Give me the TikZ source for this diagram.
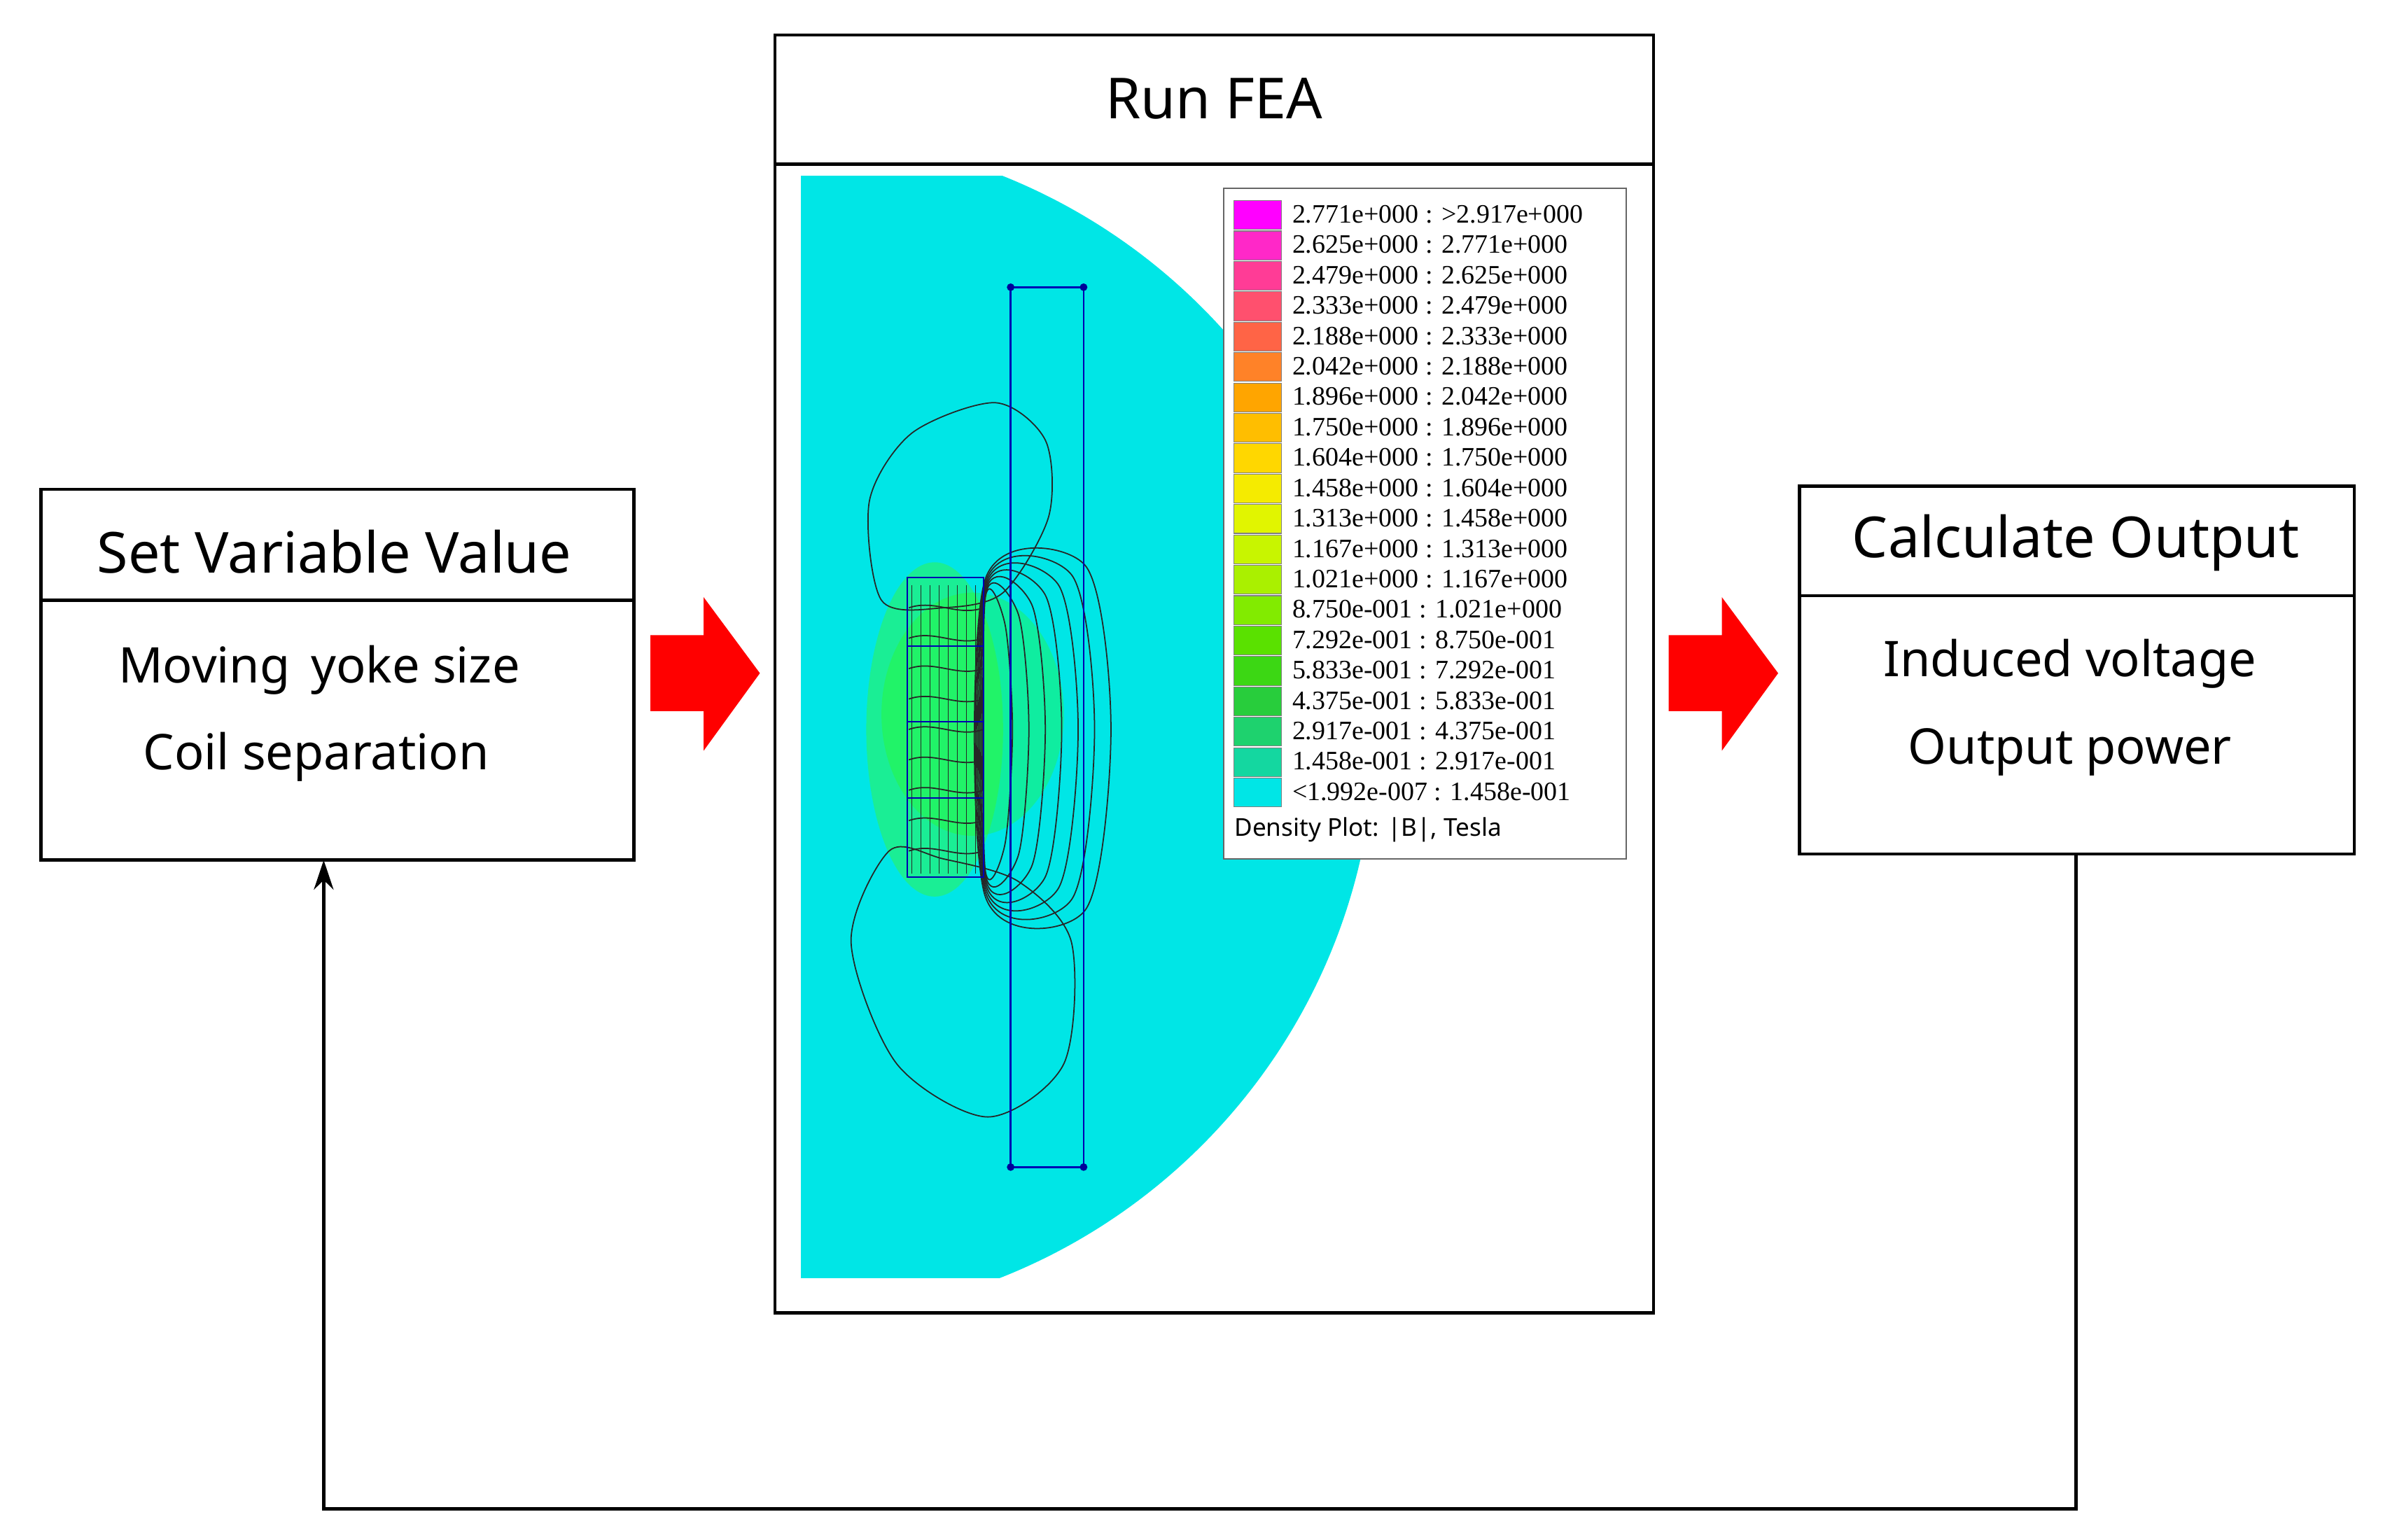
\documentclass[tikz,border=0pt]{standalone}
\usepackage{fontspec}
\setmainfont{Noto Sans}
\newfontfamily\legfont{Liberation Serif}
\usetikzlibrary{arrows.meta}
\definecolor{fcyan}{RGB}{0,230,230}
\begin{document}
\begin{tikzpicture}[x=0.02171cm,y=-0.02171cm,
  box/.style={draw=black,line width=1.3pt},
  title/.style={font=\fontsize{23}{27}\selectfont},
  body/.style={font=\fontsize{20}{24}\selectfont},
  redarrow/.style={fill=red,draw=none},
  fl/.style={draw=black!85,line width=0.5pt},
  leg/.style={font=\legfont\fontsize{10.8}{12}\selectfont,anchor=west,inner sep=0pt}]
\useasboundingbox (0,0) rectangle (1568,1013);
% left box
\draw[box] (27,322) rectangle (417,566);
\draw[box] (27,395) -- (417,395);
\node[title] (svv) at (220,363) {Set Variable Value};
\node[body] (l1) at (210,441) {Moving\, yoke size};
\node[body] (l2) at (208,498) {Coil separation};
\coordinate (lb) at (213,566);
% arrows
\fill[redarrow] (428,418) -- (463,418) -- (463,393) -- (500,443) -- (463,494) -- (463,468) -- (428,468) -- cycle;
\fill[redarrow] (1098,418) -- (1133,418) -- (1133,393) -- (1170,443) -- (1133,494) -- (1133,468) -- (1098,468) -- cycle;
% middle box
\draw[box] (510,23) rectangle (1088,864);
\draw[box] (510,108) -- (1088,108);
\node[title] (fea) at (799,65) {Run FEA};
% plot
\begin{scope}
\clip (527,116) rectangle (1000,841);
\fill[fcyan] (515,478) circle[radius=390];
\end{scope}
\fill[green!70!yellow,opacity=0.35] (615,480) ellipse[x radius=45,y radius=110];
\fill[green!80!yellow,opacity=0.3] (640,470) ellipse[x radius=60,y radius=80];
% field lines
\draw[fl] plot[smooth cycle] coordinates {(580,395) (572,330) (600,285) (655,265) (688,290) (690,340) (660,390) (620,400)};
\draw[fl] plot[smooth cycle] coordinates {(585,560) (560,620) (590,700) (650,735) (700,700) (705,620) (670,580) (620,565)};
\foreach \r in {12,20,28,36,44,52,60} {
  \draw[fl] plot[smooth cycle] coordinates {(648,{400-\r*0.3}) ({648+\r*1.1},{420-\r*0.8}) ({650+\r*1.35},480) ({648+\r*1.1},{545+\r*0.9}) (648,{565+\r*0.4})};
}
\foreach \y in {400,420,440,460,480,500,520,540,560} {
  \draw[fl] (598,\y) .. controls (615,{\y-6}) and (630,{\y+6}) .. (647,\y);
}
\foreach \x in {600,606,612,618,624,630,636,642} {
  \draw[fl,line width=0.3pt] (\x,385) -- (\x,575);
}
\draw[blue!70!black,line width=0.6pt] (597,380) rectangle (647,577);
\draw[blue!70!black,line width=0.6pt] (597,425) -- (647,425) (597,475) -- (647,475) (597,525) -- (647,525);
\draw[blue!70!black,line width=0.7pt] (665,189) rectangle (713,768);
\foreach \p in {(665,189),(713,189),(665,768),(713,768)} \fill[blue!60!black] \p circle[radius=2.5];
% legend
\draw[fill=white,draw=black!60,line width=0.6pt] (805,124) rectangle (1070,565);
\foreach \c [count=\i from 0] in {
  {255,0,255},{255,40,200},{255,60,150},{255,80,110},{255,100,70},{255,130,40},{255,165,0},{255,190,0},{255,215,0},{245,235,0},{225,245,0},{200,245,0},{170,240,0},{130,235,0},{90,225,0},{60,215,20},{40,205,60},{30,210,110},{20,215,160},{0,230,230}} {
  \definecolor{lc}{RGB}{\c}
  \fill[lc,draw=black!50,line width=0.3pt] (812,{132+\i*20}) rectangle (843,{151+\i*20});
}
\foreach \t [count=\i from 0] in {
 {2.771e+000 : >2.917e+000},{2.625e+000 : 2.771e+000},{2.479e+000 : 2.625e+000},{2.333e+000 : 2.479e+000},{2.188e+000 : 2.333e+000},{2.042e+000 : 2.188e+000},{1.896e+000 : 2.042e+000},{1.750e+000 : 1.896e+000},{1.604e+000 : 1.750e+000},{1.458e+000 : 1.604e+000},{1.313e+000 : 1.458e+000},{1.167e+000 : 1.313e+000},{1.021e+000 : 1.167e+000},{8.750e-001 : 1.021e+000},{7.292e-001 : 8.750e-001},{5.833e-001 : 7.292e-001},{4.375e-001 : 5.833e-001},{2.917e-001 : 4.375e-001},{1.458e-001 : 2.917e-001},{<1.992e-007 : 1.458e-001}} {
  \node[leg] at (850,{141+\i*20}) {\t};
}
\node[leg,font=\fontsize{10}{11}\selectfont] at (812,546) {Density Plot: |B|, Tesla};
% right box
\draw[box] (1184,320) rectangle (1549,562);
\draw[box] (1184,392) -- (1549,392);
\node[title] (co) at (1366,357) {Calculate Output};
\node[body] (r1) at (1362,437) {Induced voltage};
\node[body] (r2) at (1362,495) {Output power};
\coordinate (rb) at (1366,562);
\coordinate (c1) at (1366,993);
\coordinate (c2) at (213,993);
% feedback
\draw[line width=1.3pt,-{Stealth[length=12pt,width=8pt]}] (rb) -- (c1) -- (c2) -- (lb);
\end{tikzpicture}
\end{document}
